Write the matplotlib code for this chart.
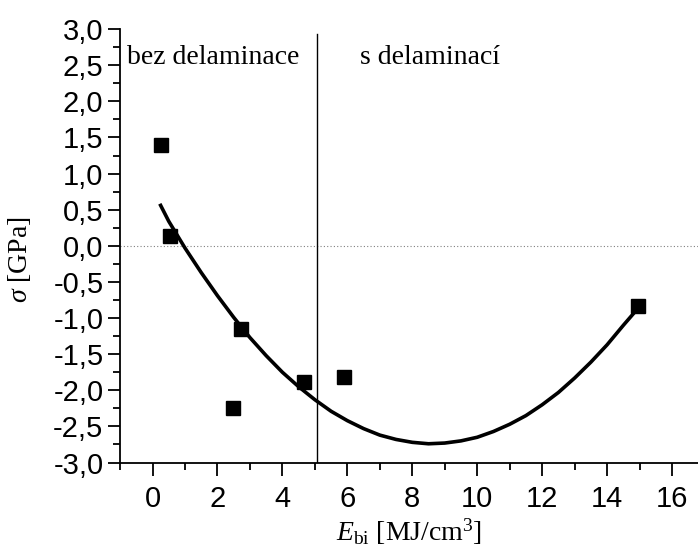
import numpy as np
import matplotlib.pyplot as plt
from matplotlib.ticker import MultipleLocator, FuncFormatter

plt.rcParams['mathtext.fontset'] = 'custom'
plt.rcParams['mathtext.rm'] = 'Liberation Serif'
plt.rcParams['mathtext.it'] = 'Liberation Serif:italic'

# measured points
e_bi = [0.25, 0.53, 2.74, 2.47, 4.66, 5.91, 14.96]
sigma = [1.39, 0.14, -1.15, -2.24, -1.89, -1.82, -0.83]

# fitted curve
fit_x = [0.25, 0.5, 1, 1.5, 2, 2.5, 3, 3.5, 4, 4.5, 5, 5.5, 6, 6.5, 7, 7.5,
         8, 8.5, 9, 9.5, 10, 10.5, 11, 11.5, 12, 12.5, 13, 13.5, 14, 14.5, 15]
fit_y = [0.56, 0.34, -0.03, -0.37, -0.69, -0.99, -1.27, -1.52, -1.75, -1.95,
         -2.13, -2.29, -2.42, -2.53, -2.62, -2.68, -2.72, -2.74, -2.73, -2.70,
         -2.65, -2.57, -2.47, -2.35, -2.20, -2.03, -1.83, -1.61, -1.37, -1.10, -0.84]

boundary = 5.06

fig = plt.figure(figsize=(6.98, 5.5), dpi=100)
ax = fig.add_axes([0.172, 0.159, 0.828, 0.788])

ax.axhline(0, color='grey', lw=0.8, ls=(0, (1, 2)))
ax.plot([boundary, boundary], [-3, 2.93], color='black', lw=1)
ax.plot(fit_x, fit_y, color='black', lw=2.6)
ax.plot(e_bi, sigma, 's', color='black', ms=9.5)

ax.set_xlim(-1, 16.8)
ax.set_ylim(-3, 3)
ax.spines['top'].set_visible(False)
ax.spines['right'].set_visible(False)
for s in ('left', 'bottom'):
    ax.spines[s].set_linewidth(1.3)

ax.xaxis.set_major_locator(MultipleLocator(2))
ax.xaxis.set_minor_locator(MultipleLocator(1))
ax.yaxis.set_major_locator(MultipleLocator(0.5))
ax.yaxis.set_minor_locator(MultipleLocator(0.25))
ax.yaxis.set_major_formatter(FuncFormatter(lambda v, p: f'{v:.1f}'.replace('.', ',')))
ax.tick_params(which='major', direction='out', length=9, width=1.3,
               labelsize=21, labelfontfamily='Liberation Sans')
ax.tick_params(which='minor', direction='out', length=5, width=1.3)
ax.tick_params(axis='x', pad=7)
ax.tick_params(axis='y', pad=3)

ax.text(-0.8, 2.61, 'bez delaminace', fontsize=20, family='Liberation Serif', va='center')
ax.text(6.4, 2.61, 's delaminací', fontsize=20, family='Liberation Serif', va='center')

ax.set_xlabel(r'$E_{\mathrm{bi}}$ [MJ/cm$^3$]', fontsize=20, family='Liberation Serif', labelpad=3)
ax.set_ylabel(r'$\sigma$ [GPa]', fontsize=20, family='Liberation Serif')
ax.yaxis.set_label_coords(-0.150, 0.468)

fig.savefig('out.png', dpi=100)
